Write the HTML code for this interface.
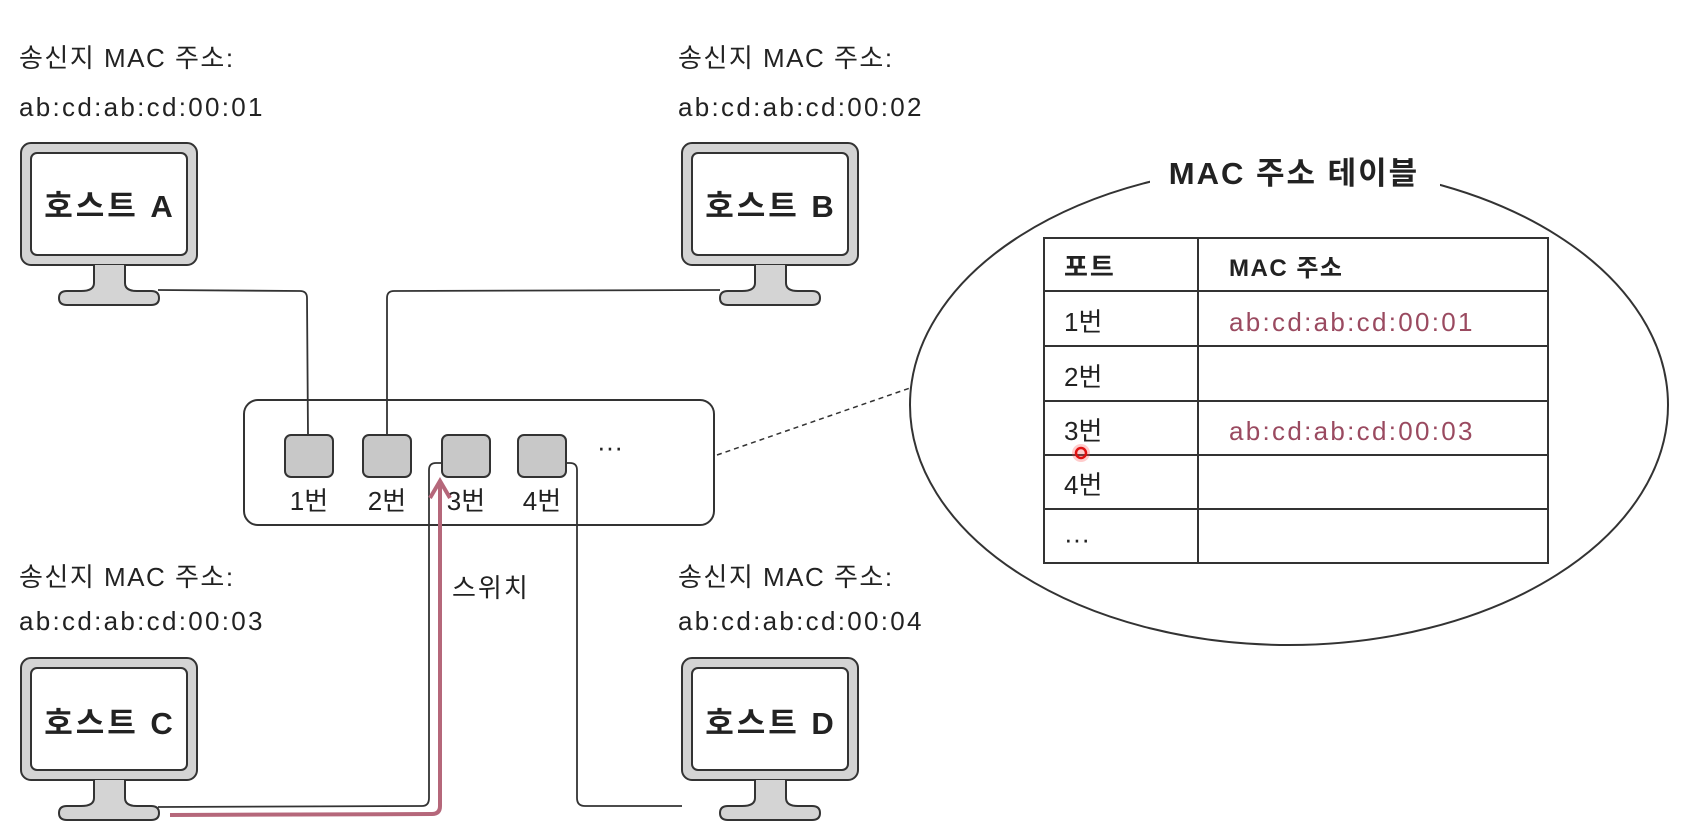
<!DOCTYPE html>
<html><head><meta charset="utf-8"><style>
html,body{margin:0;padding:0;background:#fff;}
svg{display:block;}
text{font-family:"Liberation Sans","Noto Sans CJK KR",sans-serif;fill:#222;}
</style></head><body>
<svg width="1682" height="832" viewBox="0 0 1682 832" xmlns="http://www.w3.org/2000/svg">
<defs>
<g id="mon">
  <rect x="0" y="0" width="176" height="122" rx="10" fill="#d4d4d4" stroke="#333" stroke-width="2"/>
  <rect x="10" y="10" width="156" height="102" rx="6" fill="#fff" stroke="#333" stroke-width="2"/>
  <path d="M73 122 L73 140 Q73 148 60 148 L46 148 Q38 148 38 155 Q38 162 46 162 L130 162 Q138 162 138 155 Q138 148 130 148 L116 148 Q104 148 104 140 L104 122" fill="#d4d4d4" stroke="#333" stroke-width="2"/>
</g>
</defs>
<g font-size="26" fill="#333" letter-spacing="1.5">
<text x="19" y="67">송신지 MAC 주소:</text>
<text x="19" y="116" letter-spacing="2.3">ab:cd:ab:cd:00:01</text>
<text x="678" y="67">송신지 MAC 주소:</text>
<text x="678" y="116" letter-spacing="2.3">ab:cd:ab:cd:00:02</text>
<text x="19" y="586">송신지 MAC 주소:</text>
<text x="19" y="630" letter-spacing="2.3">ab:cd:ab:cd:00:03</text>
<text x="678" y="586">송신지 MAC 주소:</text>
<text x="678" y="630" letter-spacing="2.3">ab:cd:ab:cd:00:04</text>
</g>
<g fill="none" stroke="#333" stroke-width="1.8">
<path d="M158 290 L300 291 Q307 291 307 298 L308 435"/>
<path d="M720 290 L394 291 Q387 291 387 298 L387 435"/>
<path d="M158 807 L422 806 Q429 806 429 798 L429 470 Q429 463 436 463 L442 463"/>
<path d="M566 463 L570 463 Q577 463 577 470 L577 798 Q577 806 585 806 L682 806"/>
<path d="M717 455 L910 388" stroke-dasharray="5,4" stroke-width="1.5"/>
</g>
<rect x="244" y="400" width="470" height="125" rx="14" fill="none" stroke="#333" stroke-width="2"/>
<g fill="#c8c8c8" stroke="#333" stroke-width="2">
<rect x="285" y="435" width="48" height="42" rx="6"/>
<rect x="363" y="435" width="48" height="42" rx="6"/>
<rect x="442" y="435" width="48" height="42" rx="6"/>
<rect x="518" y="435" width="48" height="42" rx="6"/>
</g>
<g font-size="26">
<text x="309" y="510" text-anchor="middle">1번</text>
<text x="387" y="510" text-anchor="middle">2번</text>
<text x="466" y="510" text-anchor="middle">3번</text>
<text x="542" y="510" text-anchor="middle">4번</text>
<text x="610" y="456" text-anchor="middle">···</text>
<text x="452" y="597" letter-spacing="2">스위치</text>
</g>
<path d="M170 815 L432 814 Q440 814 440 806 L440 484" fill="none" stroke="#b5677a" stroke-width="4"/>
<path d="M430 498 L440 481 L450 498" fill="none" stroke="#b5677a" stroke-width="4"/>
<use href="#mon" x="21" y="143"/>
<use href="#mon" x="682" y="143"/>
<use href="#mon" x="21" y="658"/>
<use href="#mon" x="682" y="658"/>
<g font-size="31" font-weight="bold" text-anchor="middle" letter-spacing="3">
<text x="110" y="217">호스트 A</text>
<text x="771" y="217">호스트 B</text>
<text x="110" y="734">호스트 C</text>
<text x="771" y="734">호스트 D</text>
</g>
<ellipse cx="1289" cy="405" rx="379" ry="240" fill="none" stroke="#333" stroke-width="2"/>
<rect x="1150" y="148" width="290" height="40" fill="#fff"/>
<text x="1294" y="184" font-size="31" text-anchor="middle" font-weight="bold" letter-spacing="2">MAC 주소 테이블</text>
<g fill="none" stroke="#333" stroke-width="2">
<rect x="1044" y="238" width="504" height="325"/>
<line x1="1198" y1="238" x2="1198" y2="563"/>
<line x1="1044" y1="291" x2="1548" y2="291"/>
<line x1="1044" y1="346" x2="1548" y2="346"/>
<line x1="1044" y1="401" x2="1548" y2="401"/>
<line x1="1044" y1="455" x2="1548" y2="455"/>
<line x1="1044" y1="509" x2="1548" y2="509"/>
</g>
<g font-size="26">
<text x="1064" y="276" font-weight="bold" letter-spacing="2">포트</text>
<text x="1229" y="276" font-size="24" font-weight="bold" letter-spacing="1.5">MAC 주소</text>
<text x="1064" y="331">1번</text>
<text x="1064" y="386">2번</text>
<text x="1064" y="440">3번</text>
<text x="1064" y="494">4번</text>
<text x="1064" y="548">···</text>
<text x="1229" y="331" style="fill:#9a4a60" letter-spacing="2.3">ab:cd:ab:cd:00:01</text>
<text x="1229" y="440" style="fill:#9a4a60" letter-spacing="2.3">ab:cd:ab:cd:00:03</text>
</g>
<circle cx="1081" cy="453" r="9" fill="#ff5555" opacity="0.3"/>
<circle cx="1081" cy="453" r="5" fill="none" stroke="#e01010" stroke-width="2.5"/>
</svg>
</body></html>
